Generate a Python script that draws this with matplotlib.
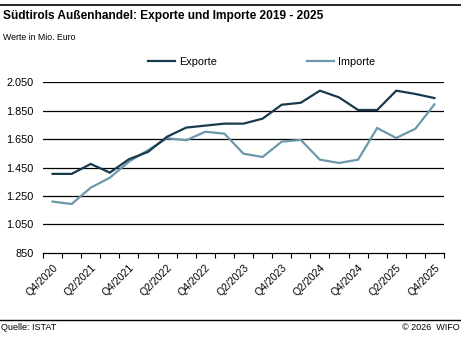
import numpy as np
import matplotlib.pyplot as plt
from matplotlib.lines import Line2D

# Daten (Mio. Euro), Q4/2020 - Q4/2025
quarters = ['Q4/2020', 'Q1/2021', 'Q2/2021', 'Q3/2021', 'Q4/2021',
            'Q1/2022', 'Q2/2022', 'Q3/2022', 'Q4/2022',
            'Q1/2023', 'Q2/2023', 'Q3/2023', 'Q4/2023',
            'Q1/2024', 'Q2/2024', 'Q3/2024', 'Q4/2024',
            'Q1/2025', 'Q2/2025', 'Q3/2025', 'Q4/2025']
exporte = [1405, 1405, 1475, 1414, 1508, 1560, 1667, 1731, 1745, 1759,
           1759, 1794, 1892, 1906, 1991, 1944, 1855, 1855, 1991, 1968, 1939]
importe = [1210, 1193, 1308, 1378, 1491, 1572, 1656, 1642, 1702, 1688,
           1547, 1524, 1632, 1644, 1505, 1482, 1505, 1728, 1658, 1723, 1895]
yticks = [850, 1050, 1250, 1450, 1650, 1850, 2050]

col_exp = '#173a4c'
col_imp = '#6c98aa'

plt.rcParams['font.family'] = ['Liberation Sans', 'DejaVu Sans']

fig = plt.figure(figsize=(4.61, 3.40), dpi=100)
ax = fig.add_axes([43 / 461, 1 - 252.7 / 340, (444 - 43) / 461, (252.7 - 82.3) / 340])

x = np.arange(len(quarters))
ax.plot(x, importe, color=col_imp, lw=1.6, solid_joinstyle='miter')
ax.plot(x, exporte, color=col_exp, lw=1.6, solid_joinstyle='miter')

ax.set_xlim(-0.5, len(quarters) - 0.5)
ax.set_ylim(850, 2050)
ax.set_yticks(yticks)
ax.set_yticklabels([f'{v:,}'.replace(',', '.') for v in yticks], fontsize=7.8)
for v in yticks[1:]:
    ax.axhline(v, color='black', lw=0.9, zorder=0)

ax.set_xticks(x[::2])
ax.set_xticklabels(quarters[::2], rotation=45, ha='right', rotation_mode='anchor', fontsize=7.6)
ax.set_xticks(np.arange(-0.5, len(quarters)), minor=True)
ax.tick_params(axis='x', which='major', length=0, pad=7)
ax.tick_params(axis='x', which='minor', length=3.5, width=0.8, color='black')
ax.tick_params(axis='y', length=0, pad=7)

for s in ['top', 'right', 'left']:
    ax.spines[s].set_visible(False)
ax.spines['bottom'].set_linewidth(0.9)

# Legende
handles = [Line2D([], [], color=col_exp, lw=1.6), Line2D([], [], color=col_imp, lw=1.6)]
fig.legend(handles, ['Exporte', 'Importe'], loc='center', bbox_to_anchor=(0.567, 1 - 62 / 340),
           ncol=2, frameon=False, fontsize=7.8, handlelength=2.5, handletextpad=0.4,
           columnspacing=8.3)

# Titel und Rahmenlinien
fig.add_artist(Line2D([0, 1], [1 - 5 / 340] * 2, color='black', lw=1.2))
fig.add_artist(Line2D([0, 1], [1 - 320 / 340] * 2, color='black', lw=1.0))
fig.text(0.007, 1 - 16 / 340, 'Südtirols Außenhandel: Exporte und Importe 2019 - 2025',
         fontsize=8.6, fontweight='bold', va='center')
fig.text(0.007, 1 - 37 / 340, 'Werte in Mio. Euro', fontsize=6.3, va='center')
fig.text(0.003, 1 - 328 / 340, 'Quelle: ISTAT', fontsize=6.5, va='center')
fig.text(0.997, 1 - 328 / 340, '© 2026  WIFO', fontsize=6.5, va='center', ha='right')

fig.savefig('out.png', dpi=100)
